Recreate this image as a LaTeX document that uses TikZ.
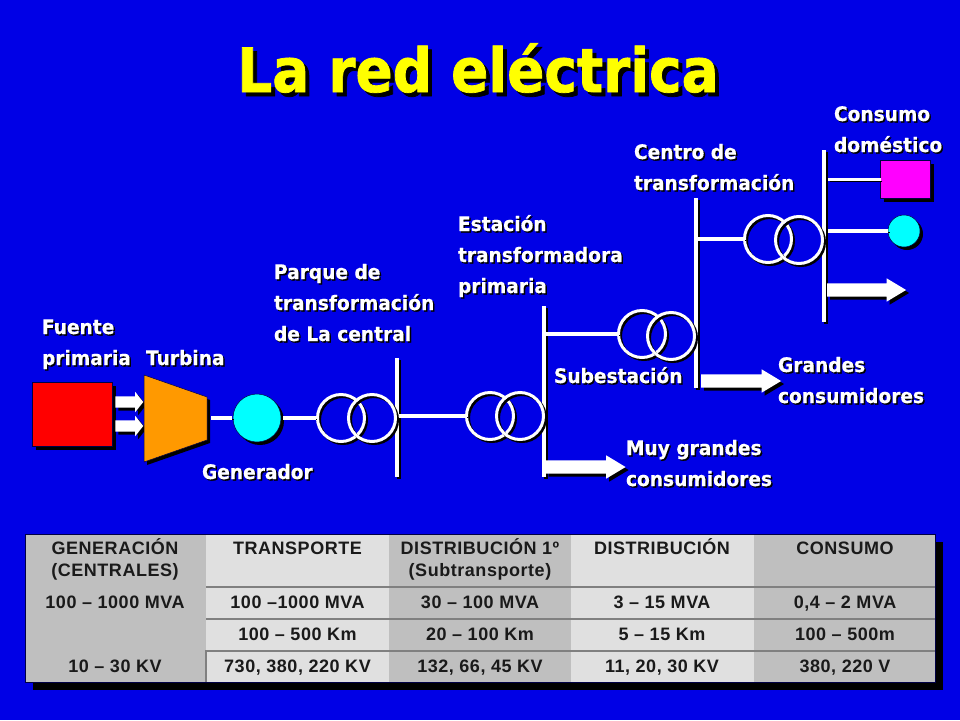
\documentclass[tikz,border=0pt]{standalone}
\usepackage{fontspec}
\setmainfont{DejaVu Sans}
\newfontfamily\labfont[FakeStretch=0.93,FakeBold=0.4]{DejaVu Sans Bold}
\newfontfamily\titfont[FakeStretch=0.9,FakeBold=1.2]{DejaVu Sans Bold}
\newfontfamily\tabfont[LetterSpace=3]{Liberation Sans Bold}
\usetikzlibrary{shapes.arrows,positioning}
\definecolor{bgblue}{HTML}{0000E6}
\definecolor{cellA}{HTML}{BFBFBF}
\definecolor{cellB}{HTML}{E0E0E0}
\definecolor{rulegray}{HTML}{808080}
\definecolor{tabink}{HTML}{1A1A1A}
\definecolor{orangeT}{HTML}{FF9900}
\definecolor{puremag}{HTML}{FF00FF}
\definecolor{purecyan}{HTML}{00FFFF}
\definecolor{purered}{HTML}{FF0000}
\definecolor{pureyel}{HTML}{FFFF00}
\tikzset{
  x=1pt,y=-1pt,
  lab/.style={font=\labfont\fontsize{20}{31}\selectfont,inner sep=0pt,outer sep=0pt,align=left,anchor=base west},
  shad/.style={text=black,xshift=1.5pt,yshift=-1.5pt},
  wire/.style={draw=white,line width=3.6pt,preaction={draw=black,transform canvas={xshift=1.5pt,yshift=-1.5pt}}},
  busbar/.style={rectangle,fill=white,draw=none,minimum width=4pt,inner sep=0pt,outer sep=0pt,preaction={fill=black,transform canvas={xshift=2pt,yshift=-2pt}}},
  coil/.style={circle,draw=white,line width=3pt,minimum size=47pt,inner sep=0pt,outer sep=0pt,preaction={draw=black,transform canvas={xshift=2pt,yshift=-2pt}}},
  solid shape/.style={draw=black!70!bgblue,line width=.5pt,inner sep=0pt,outer sep=0pt,preaction={fill=black,transform canvas={xshift=3pt,yshift=-3pt}}},
  flow/.style={single arrow,fill=white,inner sep=0pt,outer sep=0pt,shape border rotate=0,single arrow head extend=5pt,single arrow tip angle=62,preaction={fill=black,transform canvas={xshift=3pt,yshift=-3pt}}},
  smallflow/.style={flow,single arrow head extend=4.5pt,single arrow tip angle=103,minimum height=28pt},
  cell/.style={rectangle,inner sep=0pt,outer sep=0pt,font=\tabfont\fontsize{18}{22}\selectfont,text=tabink,align=center,anchor=base},
  rowrule/.style={draw=rulegray,line width=2pt},
}
\newcommand{\lbl}[3]{\node[lab,shad] at (#2) {#3}; \node[lab,text=white] (#1) at (#2) {#3};}
\begin{document}
\begin{tikzpicture}
\useasboundingbox (0,0) rectangle (960,720);
\fill[bgblue] (0,0) rectangle (960,720);
% title
\node[font=\titfont\fontsize{61}{61}\selectfont,text=black,inner sep=0pt,anchor=base] at (482,96) {La red eléctrica};
\node[font=\titfont\fontsize{61}{61}\selectfont,text=pureyel,inner sep=0pt,anchor=base] (title) at (478,92) {La red eléctrica};
% labels
\lbl{lfuente}{42,365}{Fuente\\primaria}
\lbl{lturb}{146,365}{Turbina}
\lbl{lgen}{202,479}{Generador}
\lbl{lparque}{274,341}{Parque de\\transformación\\de La central}
\lbl{lest}{458,293}{Estación\\transformadora\\primaria}
\lbl{lsub}{554,383}{Subestación}
\lbl{lmuy}{626,486}{Muy grandes\\consumidores}
\lbl{lcentro}{634,190}{Centro de\\transformación}
\lbl{lgrandes}{778,403}{Grandes\\consumidores}
\lbl{lcons}{834,152}{Consumo\\doméstico}
% shapes
\node[solid shape,fill=purered,minimum width=80pt,minimum height=64pt] (fuente) at (72.5,414.5) {};
\node[smallflow] (fa) at (127,402) {\rule{0pt}{11pt}};
\node[smallflow] (fb) at (127,426) {\rule{0pt}{11pt}};
\draw[fill=orangeT,draw=black!70!bgblue,line width=.5pt,preaction={fill=black,transform canvas={xshift=3pt,yshift=-3pt}}] (144,375) -- (207,397) -- (207,440) -- (144,462) -- cycle;
\coordinate (turbout) at (207,418);
\node[solid shape,circle,fill=purecyan,minimum size=48pt] (gen) at (257,418) {};
% buses
\node[busbar,minimum height=119pt] (bus1) at (397,417.5) {};
\node[busbar,minimum height=171pt] (bus2) at (544,391.5) {};
\node[busbar,minimum height=190pt] (bus3) at (696,293) {};
\node[busbar,minimum height=172pt] (bus4) at (824,236) {};
% transformers
\node[coil] (t1a) at (341,418) {};
\node[coil] (t1b) at (372,418) {};
\node[coil] (t2a) at (490,416) {};
\node[coil] (t2b) at (520,416) {};
\node[coil] (t3a) at (642,334) {};
\node[coil] (t3b) at (671,336) {};
\node[coil] (t4a) at (768,239) {};
\node[coil] (t4b) at (799,240) {};
% loads
\node[solid shape,rectangle,fill=puremag,minimum width=50pt,minimum height=38pt] (house) at (905.5,179.5) {};
\node[solid shape,circle,fill=purecyan,minimum size=32pt] (motor) at (904,231) {};
\node[flow,minimum height=79pt] (a4) at (861,290) {\rule{0pt}{13pt}};
\node[flow,minimum height=80pt] (a3) at (735.5,381) {\rule{0pt}{13pt}};
\node[flow,minimum height=80pt] (a2) at (580,467) {\rule{0pt}{13pt}};
% connectors
\draw[wire,shorten <=4pt,shorten >=1pt] (turbout) -- (gen.west);
\draw[wire,shorten <=2pt,shorten >=2pt] (gen.east) -- (t1a.west);
\draw[wire] (t2a.west -| bus1.east) -- (t2a.west);
\draw[wire] (t3a.west -| bus2.east) -- (t3a.west);
\draw[wire] (t4a.west -| bus3.east) -- (t4a.west);
\draw[wire,shorten <=2pt] (house.west -| bus4.east) -- (house.west);
\draw[wire,shorten <=2pt] (motor.west -| bus4.east) -- (motor.west);
% table
\fill[black] (33,542) rectangle (943,690);
\node[rectangle,fill=cellA,draw=black!70!bgblue,line width=.5pt,minimum width=910pt,minimum height=148pt,inner sep=0pt,outer sep=0pt] (tbl) at (480,608) {};
\fill[cellB] (206,534.5) rectangle (389,681.5);
\fill[cellB] (571,534.5) rectangle (754,681.5);
\draw[rowrule] (206,587) -- (tbl.east |- 0,587);
\draw[rowrule] (206,619) -- (tbl.east |- 0,619);
\draw[rowrule] (206,651) -- (tbl.east |- 0,651);
\draw[draw=rulegray,line width=2pt] (206,650) -- (206,682);
\foreach \n/\x/\hy/\a/\b/\c/\d in {
 a/115/576/{100 – 1000 MVA}/{}/{10 – 30 KV}/{GENERACIÓN\\(CENTRALES)},
 b/297.5/554/{100 –1000 MVA}/{100 – 500 Km}/{730, 380, 220 KV}/{TRANSPORTE},
 c/480/576/{30 – 100 MVA}/{20 – 100 Km}/{132, 66, 45 KV}/{DISTRIBUCIÓN 1º\\(Subtransporte)},
 d/662/554/{3 – 15 MVA}/{5 – 15 Km}/{11, 20, 30 KV}/{DISTRIBUCIÓN},
 e/845/554/{0,4 – 2 MVA}/{100 – 500m}/{380, 220 V}/{CONSUMO}}{
  \node[cell] (h\n) at (\x,\hy) {\d};
  \node[cell] (r1\n) at (\x,608) {\a};
  \node[cell] (r2\n) at (\x,640) {\b};
  \node[cell] (r3\n) at (\x,672) {\c};
}
\end{tikzpicture}
\end{document}
